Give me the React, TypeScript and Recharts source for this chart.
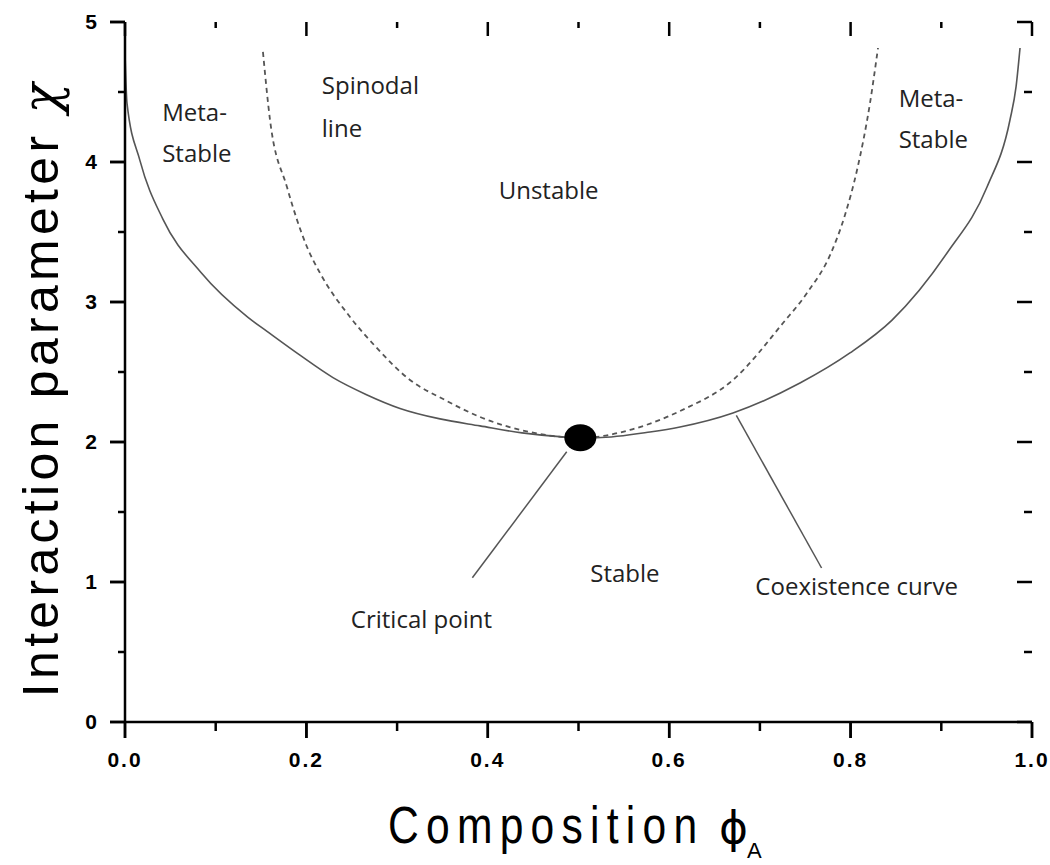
import React from 'react';
import { ComposedChart, Line, XAxis, YAxis, ReferenceLine, ReferenceDot } from 'recharts';

// Coexistence (binodal) curve: composition phi vs interaction parameter chi
const coexistence = [
  { phi: 0.0, chi: 4.78 },
  { phi: 0.0022, chi: 4.42 },
  { phi: 0.0165, chi: 4.01 },
  { phi: 0.0419, chi: 3.59 },
  { phi: 0.0838, chi: 3.21 },
  { phi: 0.1356, chi: 2.89 },
  { phi: 0.1566, chi: 2.79 },
  { phi: 0.1929, chi: 2.62 },
  { phi: 0.2293, chi: 2.46 },
  { phi: 0.2657, chi: 2.34 },
  { phi: 0.3032, chi: 2.24 },
  { phi: 0.3473, chi: 2.165 },
  { phi: 0.3914, chi: 2.115 },
  { phi: 0.4377, chi: 2.065 },
  { phi: 0.4851, chi: 2.035 },
  { phi: 0.5017, chi: 2.029 },
  { phi: 0.5204, chi: 2.03 },
  { phi: 0.5788, chi: 2.071 },
  { phi: 0.6119, chi: 2.107 },
  { phi: 0.6703, chi: 2.207 },
  { phi: 0.7442, chi: 2.421 },
  { phi: 0.7993, chi: 2.636 },
  { phi: 0.8457, chi: 2.871 },
  { phi: 0.9063, chi: 3.35 },
  { phi: 0.9504, chi: 3.821 },
  { phi: 0.9757, chi: 4.3 },
  { phi: 0.9824, chi: 4.536 },
  { phi: 0.9868, chi: 4.814 },
];

// Spinodal line (dashed)
const spinodal = [
  { phi: 0.1521, chi: 4.786 },
  { phi: 0.1599, chi: 4.3 },
  { phi: 0.1786, chi: 3.821 },
  { phi: 0.2007, chi: 3.393 },
  { phi: 0.215, chi: 3.207 },
  { phi: 0.2481, chi: 2.893 },
  { phi: 0.2756, chi: 2.686 },
  { phi: 0.3142, chi: 2.443 },
  { phi: 0.3528, chi: 2.3 },
  { phi: 0.3914, chi: 2.179 },
  { phi: 0.4465, chi: 2.071 },
  { phi: 0.5017, chi: 2.029 },
  { phi: 0.5568, chi: 2.086 },
  { phi: 0.5976, chi: 2.179 },
  { phi: 0.6119, chi: 2.221 },
  { phi: 0.6703, chi: 2.443 },
  { phi: 0.7255, chi: 2.85 },
  { phi: 0.7519, chi: 3.064 },
  { phi: 0.7784, chi: 3.35 },
  { phi: 0.7938, chi: 3.621 },
  { phi: 0.8071, chi: 3.943 },
  { phi: 0.8214, chi: 4.421 },
  { phi: 0.8302, chi: 4.814 },
];

const criticalPoint = { phi: 0.502, chi: 2.03 };

const xMajorTicks = [0, 0.2, 0.4, 0.6, 0.8, 1.0];
const xMinorTicks = [0.1, 0.3, 0.5, 0.7, 0.9];
const yMajorTicks = [0, 1, 2, 3, 4, 5];
const yMinorTicks = [0.5, 1.5, 2.5, 3.5, 4.5];

const leaderCritical = [
  { x: 0.487, y: 1.93 },
  { x: 0.383, y: 1.03 },
];
const leaderCoexistence = [
  { x: 0.674, y: 2.19 },
  { x: 0.768, y: 1.1 },
];

const annotations = [
  { text: 'Meta-', phi: 0.041, chi: 4.29 },
  { text: 'Stable', phi: 0.041, chi: 4.0 },
  { text: 'Spinodal', phi: 0.217, chi: 4.486 },
  { text: 'line', phi: 0.217, chi: 4.179 },
  { text: 'Meta-', phi: 0.853, chi: 4.393 },
  { text: 'Stable', phi: 0.853, chi: 4.1 },
  { text: 'Unstable', phi: 0.412, chi: 3.736 },
  { text: 'Stable', phi: 0.513, chi: 1.0 },
  { text: 'Coexistence curve', phi: 0.695, chi: 0.907 },
  { text: 'Critical point', phi: 0.249, chi: 0.671 },
];

// domain limits and tick-mark lengths (px) converted through the plot size
const X_MIN = 0;
const X_MAX = 1;
const Y_MIN = 0;
const Y_MAX = 5;
const PLOT_W = 907;
const PLOT_H = 700;
const xPerPx = (X_MAX - X_MIN) / PLOT_W;
const yPerPx = (Y_MAX - Y_MIN) / PLOT_H;

const tickFont = '"Liberation Sans", Arial, sans-serif';
const noteFont = '"Open Sans", "Noto Sans", sans-serif';

const axisLine = { stroke: '#000', strokeWidth: 2.5 };
const tickStyle = { fill: '#000', fontSize: 21, fontWeight: 'bold', fontFamily: tickFont };
const TICK_STROKE = '#000';
const TICK_W = 2.5;

type Seg = { x: number; y: number }[];
const tickSegments: Seg[] = [
  ...xMajorTicks.map((v) => [{ x: v, y: Y_MIN }, { x: v, y: Y_MIN - 16 * yPerPx }]),
  ...xMinorTicks.map((v) => [{ x: v, y: Y_MIN }, { x: v, y: Y_MIN - 9 * yPerPx }]),
  ...xMajorTicks.map((v) => [{ x: v, y: Y_MAX }, { x: v, y: Y_MAX - 14 * yPerPx }]),
  ...xMinorTicks.map((v) => [{ x: v, y: Y_MAX }, { x: v, y: Y_MAX - 6 * yPerPx }]),
  ...yMajorTicks.map((v) => [{ x: X_MIN, y: v }, { x: X_MIN - 15 * xPerPx, y: v }]),
  ...yMinorTicks.map((v) => [{ x: X_MIN, y: v }, { x: X_MIN - 7 * xPerPx, y: v }]),
  ...yMajorTicks.map((v) => [{ x: X_MAX, y: v }, { x: X_MAX - 15 * xPerPx, y: v }]),
  ...yMinorTicks.map((v) => [{ x: X_MAX, y: v }, { x: X_MAX - 8 * xPerPx, y: v }]),
];

export default function App() {
  return (
    <div style={{ position: 'absolute', left: 0, top: 0, width: 1050, height: 865, background: '#fff' }}>
      <ComposedChart width={1050} height={865} margin={{ top: 22, right: 18, bottom: 0, left: 0 }}>
        <XAxis
          xAxisId="bottom"
          dataKey="phi"
          type="number"
          orientation="bottom"
          domain={[X_MIN, X_MAX]}
          ticks={xMajorTicks}
          interval={0}
          height={143}
          tickSize={16}
          tickMargin={14}
          tickLine={{ stroke: TICK_STROKE, strokeWidth: TICK_W }}
          axisLine={axisLine}
          tick={{ ...tickStyle, letterSpacing: 2 }}
          tickFormatter={(v: number) => v.toFixed(1)}
        />
        <XAxis
          xAxisId="top"
          dataKey="phi"
          type="number"
          orientation="top"
          mirror
          domain={[X_MIN, X_MAX]}
          ticks={xMajorTicks}
          interval={0}
          height={0}
          tick={false}
          tickLine={false}
          axisLine={axisLine}
        />
        <YAxis
          yAxisId="left"
          type="number"
          orientation="left"
          domain={[Y_MIN, Y_MAX]}
          ticks={yMajorTicks}
          interval={0}
          width={125}
          tickSize={15}
          tickMargin={13}
          tickLine={{ stroke: TICK_STROKE, strokeWidth: TICK_W }}
          axisLine={axisLine}
          tick={tickStyle}
        />
        <YAxis
          yAxisId="right"
          type="number"
          orientation="right"
          mirror
          domain={[Y_MIN, Y_MAX]}
          ticks={yMajorTicks}
          interval={0}
          width={0}
          tick={false}
          tickLine={false}
          axisLine={axisLine}
        />
        <Line
          xAxisId="bottom"
          yAxisId="left"
          data={coexistence}
          dataKey="chi"
          type="monotone"
          dot={false}
          stroke="#555"
          strokeWidth={1.6}
          isAnimationActive={false}
        />
        <Line
          xAxisId="top"
          yAxisId="right"
          data={spinodal}
          dataKey="chi"
          type="monotone"
          dot={false}
          stroke="#555"
          strokeWidth={1.8}
          strokeDasharray="5 4"
          isAnimationActive={false}
        />
        {tickSegments.map((s, i) => (
          <ReferenceLine
            key={`t${i}`}
            xAxisId="bottom"
            yAxisId="left"
            segment={s}
            ifOverflow="visible"
            stroke={TICK_STROKE}
            strokeWidth={TICK_W}
          />
        ))}
        <ReferenceLine xAxisId="bottom" yAxisId="left" segment={leaderCritical} stroke="#555" strokeWidth={1.5} />
        <ReferenceLine xAxisId="bottom" yAxisId="left" segment={leaderCoexistence} stroke="#555" strokeWidth={1.5} />
        <ReferenceDot
          xAxisId="bottom"
          yAxisId="left"
          x={criticalPoint.phi}
          y={criticalPoint.chi}
          r={14}
          shape={(p: any) => <ellipse cx={p.cx} cy={p.cy} rx={16} ry={13.5} fill="#000" />}
        />
        {annotations.map((a, i) => (
          <ReferenceDot
            key={i}
            xAxisId="bottom"
            yAxisId="left"
            x={a.phi}
            y={a.chi}
            r={1}
            shape={(p: any) => (
              <text x={p.cx} y={p.cy} fontFamily={noteFont} fontSize={24} fill="#222" textAnchor="start">
                {a.text}
              </text>
            )}
          />
        ))}
      </ComposedChart>
      <svg width={1050} height={865} style={{ position: 'absolute', left: 0, top: 0, pointerEvents: 'none' }}>
        <text
          transform="translate(58,388) rotate(-90)"
          textAnchor="middle"
          fontFamily={tickFont}
          fontSize={50}
          letterSpacing={4.3}
          fill="#000"
        >
          Interaction parameter{' '}
          <tspan fontFamily='"DejaVu Serif", serif' fontStyle="italic">
            χ
          </tspan>
        </text>
        <text transform="translate(388,843) scale(0.82,1)" fontFamily={tickFont} fontSize={52} letterSpacing={8.8} fill="#000">
          Composition
        </text>
        <text x={719} y={843} fontFamily='"DejaVu Sans", sans-serif' fontSize={44} fill="#000">
          ϕ
        </text>
        <text x={747} y={858} fontFamily={tickFont} fontSize={22} fill="#000">
          A
        </text>
      </svg>
    </div>
  );
}
